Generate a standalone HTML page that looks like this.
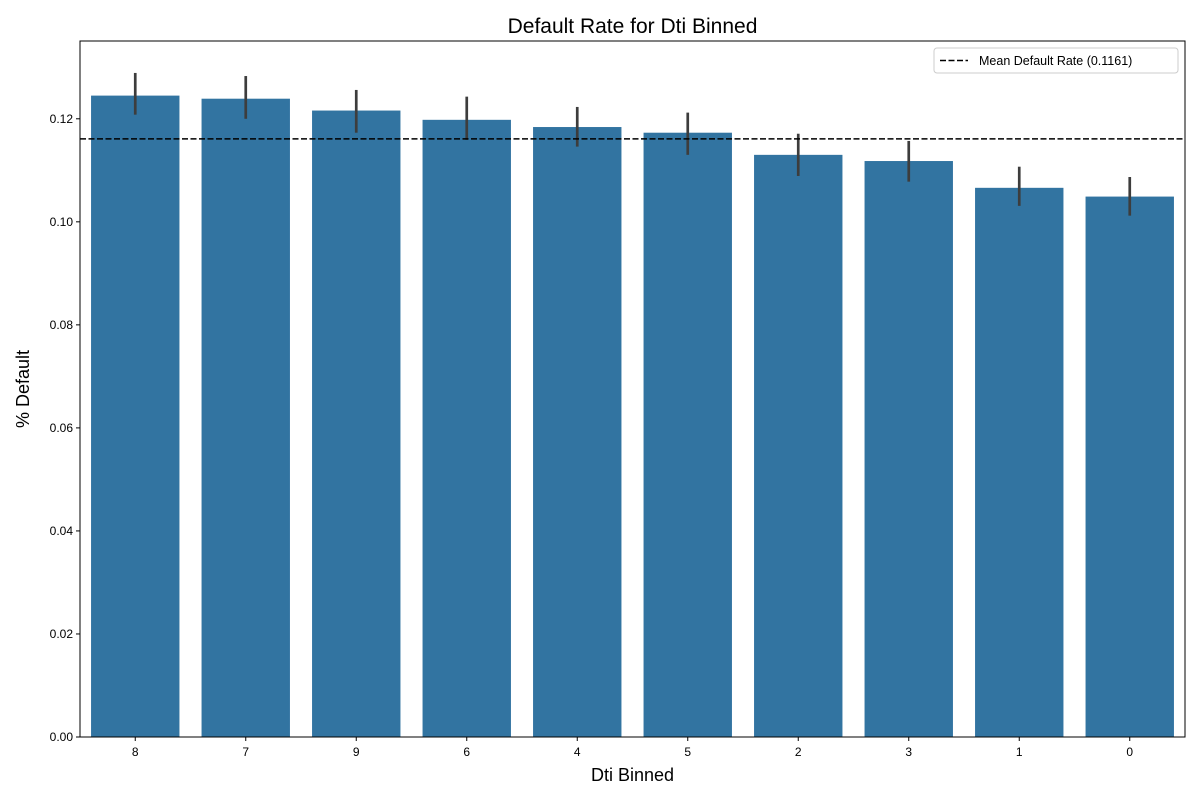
<!DOCTYPE html>
<html><head><meta charset="utf-8"><style>
body{margin:0;background:#fff;}
svg text{font-family:"Liberation Sans",sans-serif;}
</style></head><body>
<svg id="chart" width="1200" height="800" xmlns="http://www.w3.org/2000/svg"></svg>
<script>
const categories=["8","7","9","6","4","5","2","3","1","0"];
const values=[0.1245,0.1239,0.1216,0.1198,0.1184,0.1173,0.1130,0.1118,0.1066,0.1049];
const errLow=[0.1208,0.1200,0.1173,0.1159,0.1146,0.1130,0.1089,0.1078,0.1031,0.1012];
const errHigh=[0.1289,0.1283,0.1256,0.1243,0.1223,0.1212,0.1171,0.1157,0.1107,0.1087];
const yTicks=[0,0.02,0.04,0.06,0.08,0.10,0.12];
const meanRate=0.1161;
const NS="http://www.w3.org/2000/svg";
const svg=document.getElementById("chart");
const L=80,R=1185,T=41,B=737,yMax=0.1351;
const y=v=>B-(v/yMax)*(B-T);
const slot=(R-L)/categories.length;
const x=i=>L+slot*(i+0.5);
function mk(tag,a,txt){const e=document.createElementNS(NS,tag);for(const k in a)e.setAttribute(k,a[k]);if(txt!=null)e.textContent=txt;svg.appendChild(e);return e;}
categories.forEach((c,i)=>{
 const b=mk("rect",{x:x(i)-slot*0.4,y:y(values[i]),width:slot*0.8,height:B-y(values[i]),fill:"#3274a1"});
 
 
 const e=mk("line",{x1:x(i),x2:x(i),y1:y(errLow[i]),y2:y(errHigh[i]),stroke:"#3d3d3d","stroke-width":2.7});
 
 
 mk("line",{x1:x(i),x2:x(i),y1:B,y2:B+4,stroke:"#000"});
 const t=mk("text",{x:x(i),y:B+19,"text-anchor":"middle","font-size":12},c);
 
 
});
yTicks.forEach(v=>{
 mk("line",{x1:L-4,x2:L,y1:y(v),y2:y(v),stroke:"#000"});
 const t=mk("text",{x:L-7,y:y(v)+4,"text-anchor":"end","font-size":12},v.toFixed(2));
 
 
});
const ml=mk("line",{x1:L,x2:R,y1:y(meanRate),y2:y(meanRate),stroke:"#000","stroke-width":1.6,"stroke-dasharray":"6,2.5"});


const fr=mk("rect",{x:L,y:T,width:R-L,height:B-T,fill:"none",stroke:"#000","stroke-width":1});


const tt=mk("text",{x:(L+R)/2,y:33,"text-anchor":"middle","font-size":21},"Default Rate for Dti Binned");


const xt=mk("text",{x:(L+R)/2,y:781,"text-anchor":"middle","font-size":18},"Dti Binned");


const yt=mk("text",{x:29,y:389,"text-anchor":"middle","font-size":18,transform:"rotate(-90 29 389)"},"% Default");


const lg=mk("rect",{x:934,y:48,width:244,height:25,fill:"#fff",stroke:"#ccc",rx:3});


mk("line",{x1:940,x2:968,y1:60.5,y2:60.5,stroke:"#000","stroke-width":1.6,"stroke-dasharray":"6,2.5"});
const lt=mk("text",{x:979,y:65,"font-size":12.5},"Mean Default Rate (0.1161)");


</script>
</body></html>
